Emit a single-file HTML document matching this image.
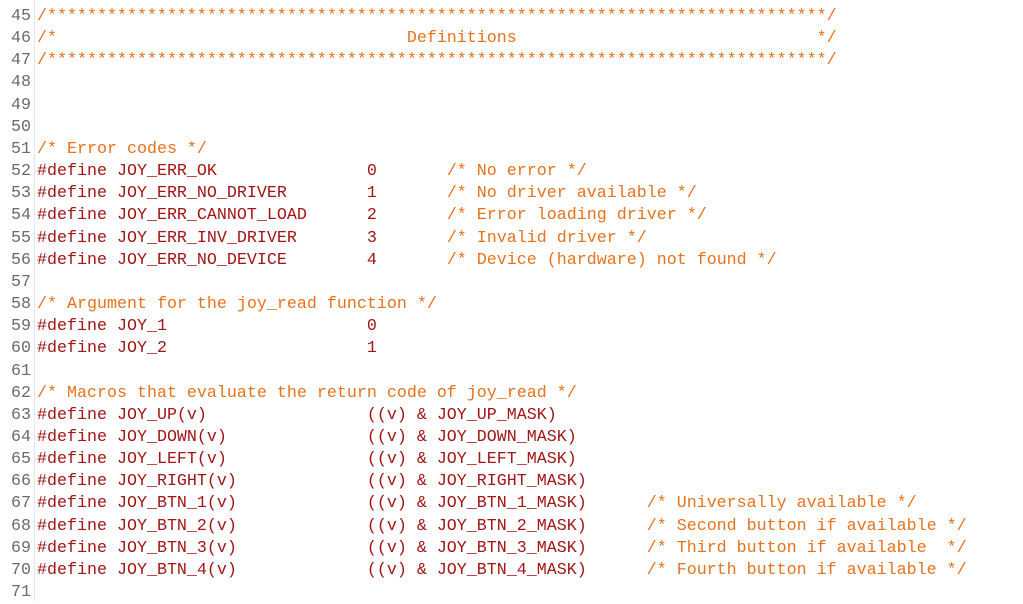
<!DOCTYPE html>
<html><head><meta charset="utf-8"><style>
html,body{margin:0;padding:0;background:#fff;width:1023px;height:601px;overflow:hidden}
.g{position:absolute;left:0;top:0;width:34px;height:601px;border-right:1px solid #e4e4e4}
pre{margin:0;position:absolute;top:6px;font-family:"Liberation Mono",monospace;font-size:16.67px;line-height:22.15px}
.n{left:0;width:31px;text-align:right;color:#6a6a6a}
.c{left:37px;color:#a31515}
.o{color:#e8721c}
</style></head><body>
<div class="g"></div>
<pre class="n">45
46
47
48
49
50
51
52
53
54
55
56
57
58
59
60
61
62
63
64
65
66
67
68
69
70
71</pre>
<pre class="c"><span class="o">/******************************************************************************/</span>
<span class="o">/*                                   Definitions                              */</span>
<span class="o">/******************************************************************************/</span>



<span class="o">/* Error codes */</span>
#define JOY_ERR_OK               0       <span class="o">/* No error */</span>
#define JOY_ERR_NO_DRIVER        1       <span class="o">/* No driver available */</span>
#define JOY_ERR_CANNOT_LOAD      2       <span class="o">/* Error loading driver */</span>
#define JOY_ERR_INV_DRIVER       3       <span class="o">/* Invalid driver */</span>
#define JOY_ERR_NO_DEVICE        4       <span class="o">/* Device (hardware) not found */</span>

<span class="o">/* Argument for the joy_read function */</span>
#define JOY_1                    0
#define JOY_2                    1

<span class="o">/* Macros that evaluate the return code of joy_read */</span>
#define JOY_UP(v)                ((v) &amp; JOY_UP_MASK)
#define JOY_DOWN(v)              ((v) &amp; JOY_DOWN_MASK)
#define JOY_LEFT(v)              ((v) &amp; JOY_LEFT_MASK)
#define JOY_RIGHT(v)             ((v) &amp; JOY_RIGHT_MASK)
#define JOY_BTN_1(v)             ((v) &amp; JOY_BTN_1_MASK)      <span class="o">/* Universally available */</span>
#define JOY_BTN_2(v)             ((v) &amp; JOY_BTN_2_MASK)      <span class="o">/* Second button if available */</span>
#define JOY_BTN_3(v)             ((v) &amp; JOY_BTN_3_MASK)      <span class="o">/* Third button if available  */</span>
#define JOY_BTN_4(v)             ((v) &amp; JOY_BTN_4_MASK)      <span class="o">/* Fourth button if available */</span>
</pre>
</body></html>
